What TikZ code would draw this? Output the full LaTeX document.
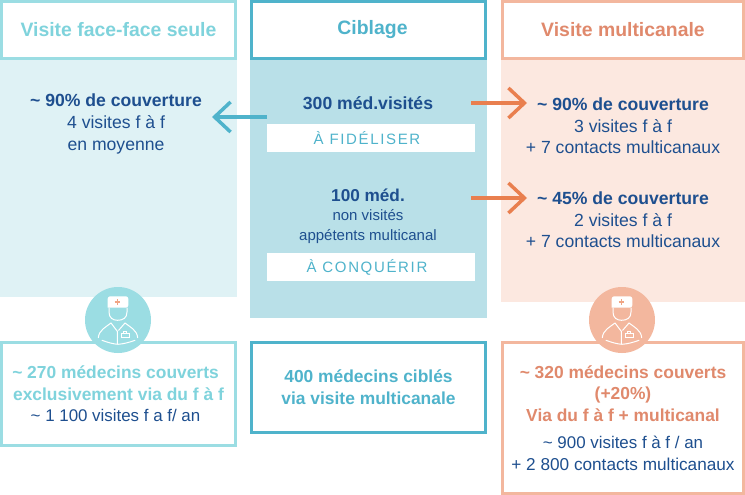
\documentclass[tikz,border=0pt]{standalone}
\usepackage{fontspec}
\setmainfont{Liberation Sans}
\usetikzlibrary{arrows.meta}
\definecolor{turq}{HTML}{9BDDE3}
\definecolor{turqt}{HTML}{7FD3DC}
\definecolor{bleu}{HTML}{4FB3CB}
\definecolor{saumon}{HTML}{F3B79E}
\definecolor{saumont}{HTML}{E0896C}
\definecolor{orange}{HTML}{E97F4F}
\definecolor{encre}{HTML}{1E4F8F}
\definecolor{fondA}{HTML}{DFF2F5}
\definecolor{fondB}{HTML}{B9E0E8}
\definecolor{fondC}{HTML}{FCE8E0}
\newcommand{\fin}{\color{encre}\fontsize{16.9}{22}\selectfont\mdseries}
\tikzset{
  cadre/.style   = {rectangle, draw, line width=3pt, fill=white, inner sep=0, align=center, font=\fontsize{17.4}{21.5}\selectfont\bfseries},
  titre/.style   = {cadre, minimum height=57pt, font=\fontsize{19.4}{22}\selectfont\bfseries},
  fond/.style    = {rectangle, inner sep=0},
  etiq/.style    = {rectangle, fill=white, minimum width=208pt, minimum height=28pt, inner sep=0, text=bleu, font=\fontsize{15}{18}\selectfont\addfontfeature{LetterSpace=11}},
  txt/.style     = {inner sep=0, align=center, text=encre, font=\fontsize{17.6}{21.7}\selectfont},
  fleche/.style  = {line width=3.5pt, -{Straight Barb[length=16pt,width=30pt,line width=3.5pt]}},
  rond/.style    = {circle, minimum size=66pt, inner sep=0},
  medic/.pic     = {
    \fill[white, rounded corners=2.5pt] (-10.3,-12.3) -- (-10.3,-23.7) -- (10.3,-23.7) -- (10.3,-12.3) [sharp corners] -- cycle;
    \draw[white, line width=1pt] (-9,-12.3) -- (-9,-8) .. controls (-9,-2) and (-5,0.3) .. (-0.5,0.3) .. controls (5,0.3) and (9,-2) .. (9,-8) -- (9,-12.3);
    \draw[orange!70!white, line width=1.6pt] (-3.3,-18.3) -- (2.3,-18.3) (-0.5,-21) -- (-0.5,-15.5);
    \draw[white, line width=1pt, line cap=round] (-7,3) .. controls (-12,7) and (-19,10) .. (-19.7,17.7) (7,3) .. controls (12,7) and (19,10) .. (19.7,17.7);
    \draw[white, line width=1pt, line cap=round] (-16,20.3) .. controls (-10,22.5) and (-5,24) .. (0,24.3) .. controls (5,24) and (11,22.5) .. (17,20.3);
    \draw[white, line width=1pt] (-7,3) -- (-0.7,11.3) -- (-0.7,24) (7,3) -- (0.5,10.5);
    \draw[white, line width=1pt] (3,13) rectangle (11.3,17.7) (5.3,13) -- (5.3,11.3) -- (8.7,11.3) -- (8.7,13);
  }
}
\begin{document}
\begin{tikzpicture}[x=1pt,y=-1pt]
  \useasboundingbox (0,0) rectangle (745,495);
  % panneaux de fond
  \node[fond, fill=fondA, minimum width=237pt, minimum height=237pt] (fa) at (118.5,178.5){};
  \node[fond, fill=fondB, minimum width=237pt, minimum height=258pt] (fb) at (368.5,189){};
  \node[fond, fill=fondC, minimum width=244pt, minimum height=242pt] (fc) at (623,181){};
  % en-tetes
  \node[titre, draw=turq, text=turqt, minimum width=234pt] (ta) at (118.5,30){Visite face-face seule};
  \node[titre, draw=bleu, text=bleu, minimum width=234pt] (tb) at (368.5,30){\hspace*{8pt}Ciblage};
  \node[titre, draw=saumon, text=saumont, minimum width=241pt] (tc) at (623,30){Visite multicanale};
  % colonne gauche
  \node[txt] (g1) at (116,124){{\bfseries\textasciitilde{} 90\% de couverture}\\4 visites f à f\\en moyenne};
  % colonne centre
  \node[txt] (c1) at (368,103){\bfseries 300 méd.visités};
  \node[etiq] (e1) at (371,138){À FIDÉLISER\hspace*{8pt}};
  \node[txt, font=\fontsize{15}{19.5}\selectfont] (c2) at (368,216){{\fontsize{17.2}{19.5}\selectfont\bfseries 100 méd.}\\non visités\\appétents multicanal};
  \node[etiq] (e2) at (371,267){À CONQUÉRIR\hspace*{8pt}};
  % colonne droite
  \node[txt] (d1) at (623,126){{\bfseries\textasciitilde{} 90\% de couverture}\\3 visites f à f\\+ 7 contacts multicanaux};
  \node[txt] (d2) at (623,220){{\bfseries\textasciitilde{} 45\% de couverture}\\2 visites f à f\\+ 7 contacts multicanaux};
  % fleches
  \coordinate (ag) at (267,117); \coordinate (ag2) at (212,117);
  \coordinate (ad) at (471,103); \coordinate (ad2) at (527,103);
  \coordinate (ae) at (471,198); \coordinate (ae2) at (527,198);
  \draw[fleche, bleu] (ag)--(ag2);
  \draw[fleche, orange] (ad)--(ad2);
  \draw[fleche, orange] (ae)--(ae2);
  % cadres du bas
  \node[cadre, draw=turq, text=turqt, minimum width=234pt, minimum height=103pt] (ba) at (118.5,394){\textasciitilde{} 270 médecins couverts\hspace*{6pt}\\exclusivement via du f à f\hspace*{6pt}\\{\fin\textasciitilde{} 1 100 visites f a f/ an\hspace*{6pt}}};
  \node[cadre, draw=bleu, text=bleu, minimum width=234pt, minimum height=90pt] (bb) at (368.5,387){400 médecins ciblés\\via visite multicanale};
  \node[cadre, draw=saumon, text=saumont, minimum width=241pt, minimum height=151pt] (bc) at (623,418){\textasciitilde{} 320 médecins couverts\\(+20\%)\\Via du f à f + multicanal\\[6pt]{\fin\textasciitilde{} 900 visites f à f / an}\\{\fin\fontsize{17.2}{22}\selectfont + 2 800 contacts multicanaux}};
  % medecins
  \node[rond, fill=turq] (ma) at (118,320){};
  \node[rond, fill=saumon] (mc) at (622,320){};
  \pic at (ma) {medic};
  \pic at (mc) {medic};
\end{tikzpicture}
\end{document}
